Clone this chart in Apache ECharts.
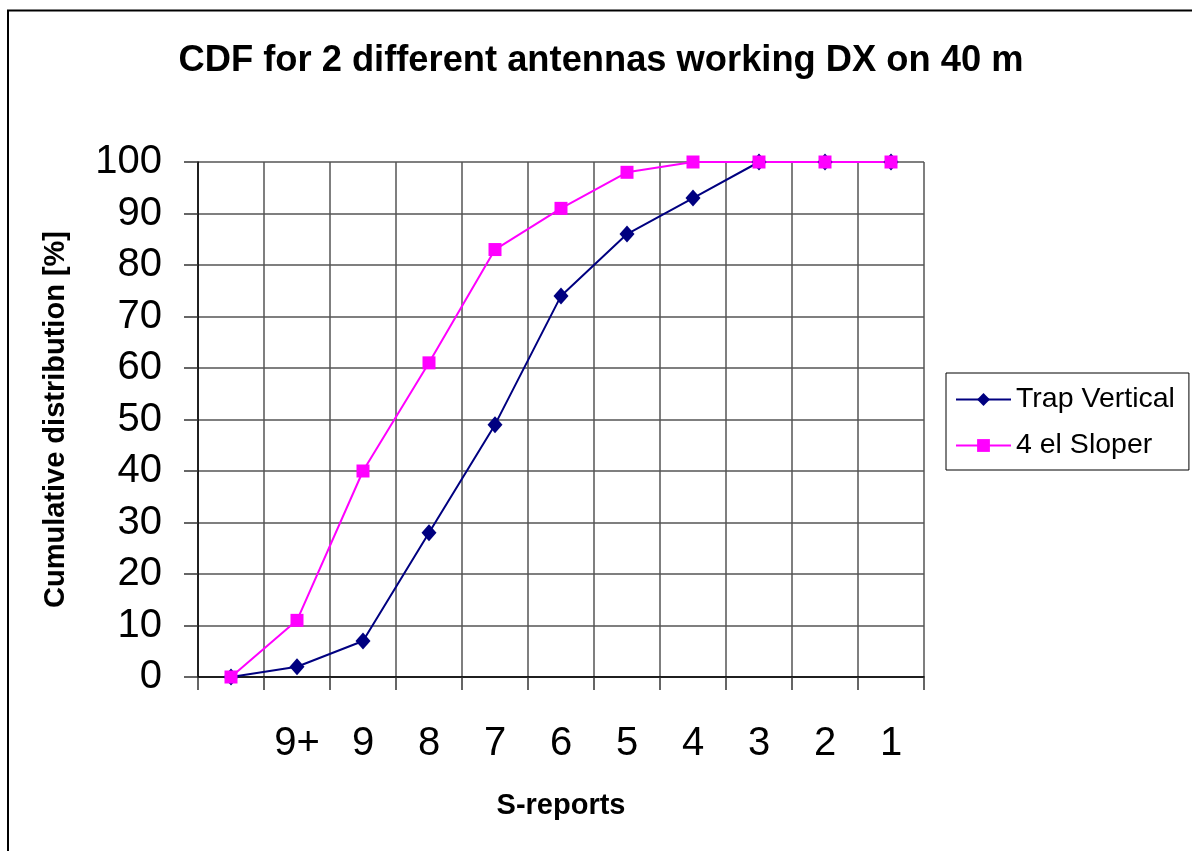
<!DOCTYPE html>
<html>
<head>
<meta charset="utf-8">
<script src="https://cdn.jsdelivr.net/npm/echarts@6/dist/echarts.min.js"></script>
<style>
html,body{margin:0;padding:0;background:#fff;}
#chart{width:1192px;height:851px;}
</style>
</head>
<body>
<div id="chart"></div>
<script>
const categories = ['', '9+', '9', '8', '7', '6', '5', '4', '3', '2', '1'];
const trapVertical = [0, 2, 7, 28, 49, 74, 86, 93, 100, 100, 100];
const elSloper = [0, 11, 40, 61, 83, 91, 98, 100, 100, 100, 100];
const seriesNames = ['Trap Vertical', '4 el Sloper'];
const titleText = 'CDF for 2 different antennas working DX on 40 m';
const xName = 'S-reports';
const yName = 'Cumulative distribution [%]';

const FONT = '"Liberation Sans", Arial, sans-serif';
const chart = echarts.init(document.getElementById('chart'));
chart.setOption({
  animation: false,
  backgroundColor: '#fff',
  textStyle: { fontFamily: FONT, color: '#000' },
  title: {
    text: titleText,
    left: 596,
    textAlign: 'center',
    top: 38,
    textStyle: { fontFamily: FONT, fontWeight: 'bold', fontSize: 36.3, color: '#000' }
  },
  graphic: [{
    type: 'rect',
    z: -1,
    shape: { x: 8, y: 10.5, width: 1400, height: 1000 },
    style: { fill: 'none', stroke: '#000', lineWidth: 2 }
  }],
  legend: {
    orient: 'vertical',
    left: 946,
    top: 373,
    padding: [12, 14, 10, 9],
    borderColor: '#000',
    borderWidth: 1,
    itemWidth: 55,
    itemHeight: 16,
    itemGap: 17,
    textStyle: { fontFamily: FONT, fontSize: 28.5, color: '#000' },
    data: seriesNames
  },
  grid: { left: 198, right: 268, top: 162, bottom: 174, containLabel: false },
  xAxis: {
    type: 'category',
    data: categories,
    boundaryGap: true,
    name: xName,
    nameLocation: 'middle',
    nameGap: 114,
    nameTextStyle: { fontFamily: FONT, fontWeight: 'bold', fontSize: 29, color: '#000' },
    axisLine: { lineStyle: { color: '#000', width: 1.5 } },
    axisTick: { show: true, length: 13, interval: 0, lineStyle: { color: '#333', width: 1.5 } },
    axisLabel: { interval: 0, fontFamily: FONT, fontSize: 40, color: '#000', margin: 47 },
    splitLine: { show: true, interval: 0, lineStyle: { color: '#555', width: 1.5 } }
  },
  yAxis: {
    type: 'value',
    min: 0,
    max: 100,
    interval: 10,
    name: yName,
    nameLocation: 'middle',
    nameGap: 128,
    nameTextStyle: { fontFamily: FONT, fontWeight: 'bold', fontSize: 29, color: '#000' },
    axisLine: { show: true, lineStyle: { color: '#000', width: 1.5 } },
    axisTick: { show: true, length: 14, lineStyle: { color: '#333', width: 1.5 } },
    axisLabel: { fontFamily: FONT, fontSize: 40, color: '#000', margin: 36 },
    splitLine: { show: true, lineStyle: { color: '#555', width: 1.5 } }
  },
  series: [
    {
      name: seriesNames[0],
      type: 'line',
      data: trapVertical,
      symbol: 'diamond',
      symbolSize: [15, 17],
      showAllSymbol: true,
      itemStyle: { color: '#000080' },
      lineStyle: { color: '#000080', width: 2 }
    },
    {
      name: seriesNames[1],
      type: 'line',
      data: elSloper,
      symbol: 'rect',
      symbolSize: 13,
      showAllSymbol: true,
      itemStyle: { color: '#FF00FF' },
      lineStyle: { color: '#FF00FF', width: 2 }
    }
  ]
});
</script>
</body>
</html>
